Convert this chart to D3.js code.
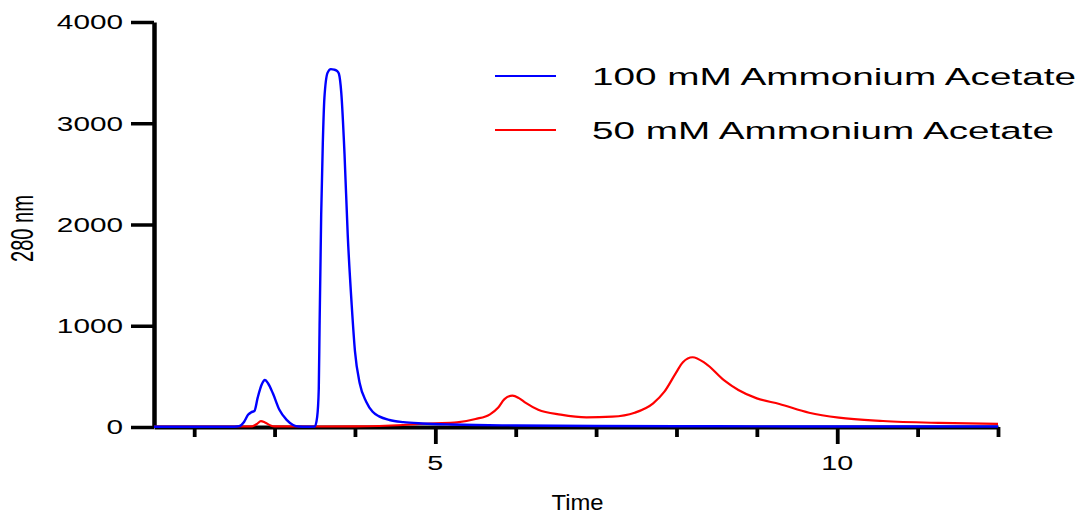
<!DOCTYPE html>
<html>
<head>
<meta charset="utf-8">
<script src="https://cdn.jsdelivr.net/npm/d3@7"></script>
<style>
  html, body { margin: 0; padding: 0; background: #fff; }
  svg { display: block; }
  text { font-family: "Liberation Sans", Arial, sans-serif; fill: #000; }
</style>
</head>
<body>
<svg id="chart" width="1080" height="513"></svg>
<script>
// ---- Data ----
const blueTime  = [1.5, 2.0, 2.5, 2.56, 2.62, 2.67, 2.71, 2.75, 2.79, 2.84, 2.88, 2.92, 2.98, 3.06, 3.15, 3.23, 3.3, 3.4, 3.5, 3.53, 3.55, 3.56, 3.58, 3.60, 3.62, 3.66, 3.70, 3.74, 3.78, 3.80, 3.83, 3.87, 3.91, 3.96, 4.00, 4.06, 4.14, 4.22, 4.30, 4.43, 4.6, 4.84, 5.2, 5.5, 6.0, 7.0, 8.0, 9.0, 10.0, 11.0, 12.0];
const blueValue = [3, 3, 3, 8, 50, 120, 145, 160, 290, 420, 464, 430, 330, 170, 70, 20, 5, 3, 5, 100, 380, 1000, 2100, 2800, 3250, 3500, 3535, 3530, 3515, 3490, 3300, 2700, 1900, 1200, 750, 430, 250, 150, 105, 69, 48, 35, 25, 20, 15, 10, 8, 6, 5, 5, 5];

const redTime  = [1.5, 2.5, 2.72, 2.78, 2.83, 2.88, 2.95, 3.0, 3.5, 4.0, 4.3, 4.6, 4.8, 5.0, 5.27, 5.5, 5.68, 5.78, 5.86, 5.96, 6.04, 6.12, 6.28, 6.56, 6.88, 7.2, 7.48, 7.71, 7.85, 7.99, 8.08, 8.2, 8.36, 8.59, 8.77, 9.0, 9.28, 9.65, 10.02, 10.57, 11.26, 12.0];
const redValue = [5, 5, 6, 30, 58, 45, 15, 6, 5, 6, 10, 20, 30, 36, 46, 79, 125, 190, 275, 310, 285, 240, 170, 122, 96, 102, 141, 234, 349, 530, 640, 689, 629, 464, 366, 283, 227, 141, 92, 59, 40, 30];

const seriesNames = ["100 mM Ammonium Acetate", "50 mM Ammonium Acetate"];
const seriesColors = ["#0000ff", "#ff0000"];

const yTicks = [0, 1000, 2000, 3000, 4000];
const xMajorTicks = [5, 10];
const xMinorTicks = [2, 3, 4, 6, 7, 8, 9, 11, 12];
const xLabel = "Time";
const yLabel = "280 nm";

// ---- Scales ----
const svg = d3.select("#chart");
const x = d3.scaleLinear().domain([1.5, 12]).range([154, 998]);
const y = d3.scaleLinear().domain([0, 4000]).range([427, 22]);

function stretch(sel, k) {
  sel.each(function() {
    const w = this.getComputedTextLength();
    d3.select(this).attr("textLength", w * k).attr("lengthAdjust", "spacingAndGlyphs");
  });
}

// ---- Axes ----
const gy = svg.append("g").attr("transform", `translate(${x.range()[0]},0)`)
  .call(d3.axisLeft(y).tickValues(yTicks).tickSize(23).tickSizeOuter(0).tickFormat(""));
gy.select(".domain").attr("stroke", "#000").attr("stroke-width", 4.5);
gy.selectAll(".tick line").attr("stroke", "#000").attr("stroke-width", 3.5);

const gxMinor = svg.append("g").attr("transform", `translate(0,${y(0)})`)
  .call(d3.axisBottom(x).tickValues(xMinorTicks).tickSize(10).tickSizeOuter(0).tickFormat(""));
gxMinor.select(".domain").remove();
gxMinor.selectAll(".tick line").attr("stroke", "#000").attr("stroke-width", 3.8);

const gxMajor = svg.append("g").attr("transform", `translate(0,${y(0)})`)
  .call(d3.axisBottom(x).tickValues(xMajorTicks).tickSize(17).tickSizeOuter(0).tickFormat(""));
gxMajor.select(".domain").attr("stroke", "#000").attr("stroke-width", 4);
gxMajor.selectAll(".tick line").attr("stroke", "#000").attr("stroke-width", 3.8);

// y tick labels
const yl = svg.append("g").selectAll("text").data(yTicks).join("text")
  .attr("x", 123).attr("y", d => y(d)).attr("dy", "0.36em")
  .attr("text-anchor", "end").attr("font-size", 20.5)
  .text(d => d);
stretch(yl, 1.45);

// x tick labels
const xl = svg.append("g").selectAll("text").data(xMajorTicks).join("text")
  .attr("x", d => x(d)).attr("y", 470)
  .attr("text-anchor", "middle").attr("font-size", 20.5)
  .text(d => d);
stretch(xl, 1.4);

// axis titles
const xt = svg.append("text").attr("x", 577.5).attr("y", 509.5)
  .attr("text-anchor", "middle").attr("font-size", 22).text(xLabel);
xt.attr("textLength", 52).attr("lengthAdjust", "spacingAndGlyphs");

const yt = svg.append("text")
  .attr("transform", "translate(32.5,228.5) rotate(-90)")
  .attr("text-anchor", "middle").attr("font-size", 31).text(yLabel);
yt.attr("textLength", 67).attr("lengthAdjust", "spacingAndGlyphs");

// ---- Lines ----
const line = d3.line().x(d => x(d[0])).y(d => y(d[1])).curve(d3.curveMonotoneX);
const redData = redTime.map((t, i) => [t, redValue[i]]);
const blueData = blueTime.map((t, i) => [t, blueValue[i]]);

svg.append("path").datum(redData).attr("d", line)
  .attr("fill", "none").attr("stroke", seriesColors[1]).attr("stroke-width", 2.2)
  .attr("stroke-linejoin", "round");
svg.append("path").datum(blueData).attr("d", line)
  .attr("fill", "none").attr("stroke", seriesColors[0]).attr("stroke-width", 2.4)
  .attr("stroke-linejoin", "round");

// ---- Legend ----
const legY = [76, 130];
const legW = [484, 462];
const lg = svg.append("g");
seriesNames.forEach((name, i) => {
  lg.append("line").attr("x1", 495).attr("x2", 556).attr("y1", legY[i]).attr("y2", legY[i])
    .attr("stroke", seriesColors[i]).attr("stroke-width", 2);
  lg.append("text").attr("x", 592).attr("y", legY[i]).attr("dy", "0.36em")
    .attr("font-size", 24.5).text(name)
    .attr("textLength", legW[i]).attr("lengthAdjust", "spacingAndGlyphs");
});
</script>
</body>
</html>
